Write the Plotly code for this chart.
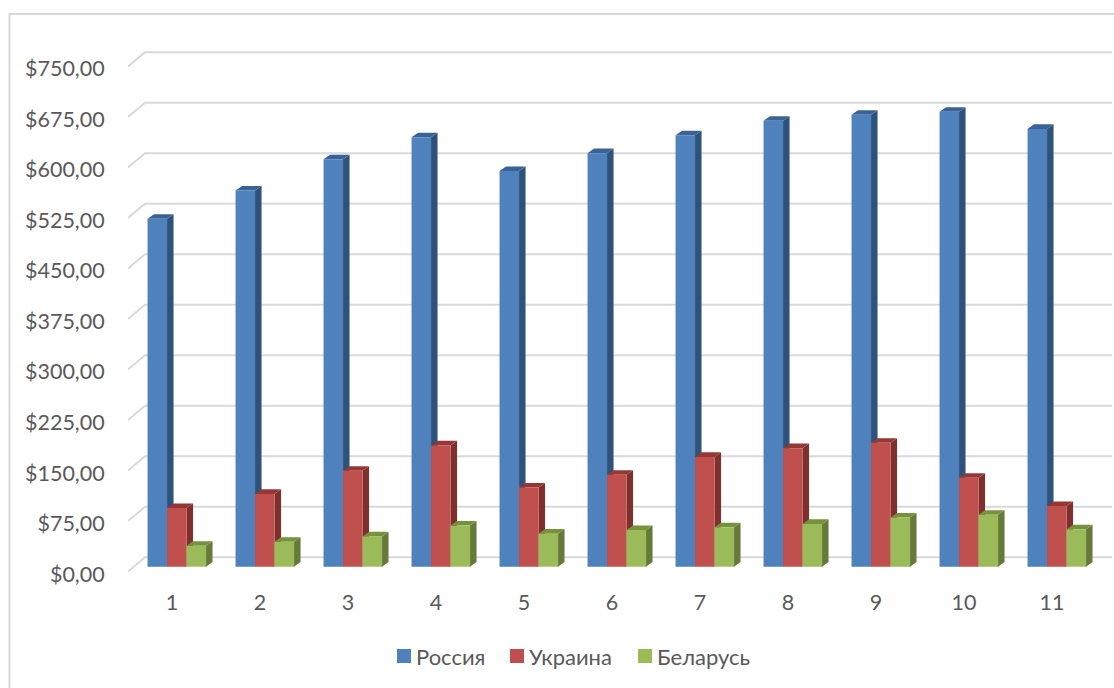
import plotly.graph_objects as go

# Monthly figures per country
categories = [1, 2, 3, 4, 5, 6, 7, 8, 9, 10, 11]
russia = [516.5, 558.5, 605, 637.5, 587.5, 614, 640.5, 662, 671, 675.5, 650]
ukraine = [87, 108, 142.5, 180, 117.5, 136.5, 163, 176, 184, 132, 90]
belarus = [31, 37, 45, 61, 49, 54.5, 58.5, 63.5, 73, 77, 55.5]
tick_values = [0, 75, 150, 225, 300, 375, 450, 525, 600, 675, 750]
tick_labels = ["$0,00", "$75,00", "$150,00", "$225,00", "$300,00", "$375,00",
               "$450,00", "$525,00", "$600,00", "$675,00", "$750,00"]

series = [
    ("Россия", russia, "#4F81BD", "#2F5279", "#3A6296"),
    ("Украина", ukraine, "#C0504D", "#7F302E", "#943735"),
    ("Беларусь", belarus, "#9BBB59", "#667B3A", "#76923C"),
]

W, H = 1114, 688
FONT = "Lato, 'Open Sans', sans-serif"
TEXT = "#595959"
GRID = "#D9D9D9"

# Plot box in page pixels and the pixel scale of each axis
LEFT, RIGHT, TOP, BOTTOM = 128, 1112, 30, 581
PX_PER_CAT = 88.0
PX_PER_VAL = 0.6735
CAT1_X = 172.0      # centre of category 1 on the front plane
ZERO_Y = 574.0      # value 0 at the vertical centre of the axis labels
WALL_FRONT_Y = 571.5  # value 0 where the floor meets the label side
BAR_ZERO_Y = 566.7  # value 0 on the plane of the bar fronts
GROUP_SHIFT_PX = 4.8

x_range = [1 + (LEFT - CAT1_X) / PX_PER_CAT, 1 + (RIGHT - CAT1_X) / PX_PER_CAT]
y_range = [(ZERO_Y - BOTTOM) / PX_PER_VAL, (ZERO_Y - TOP) / PX_PER_VAL]
val_shift = (ZERO_Y - BAR_ZERO_Y) / PX_PER_VAL
wall_shift = (ZERO_Y - WALL_FRONT_Y) / PX_PER_VAL
cat_shift = GROUP_SHIFT_PX / PX_PER_CAT

# Depth of the wall behind the axis labels, and depth of a bar
wall_dx, wall_dy = 17 / PX_PER_CAT, 14.2 / PX_PER_VAL
bar_dx, bar_dy = 6.5 / PX_PER_CAT, 4.6 / PX_PER_VAL
bar_w = 19.5 / PX_PER_CAT

fig = go.Figure()

# Gridlines on the back wall, each with a short diagonal run towards its label
gx, gy = [], []
for v in tick_values:
    gx += [x_range[0], x_range[0] + wall_dx, x_range[1], None]
    gy += [v + wall_shift, v + wall_shift + wall_dy, v + wall_shift + wall_dy, None]
fig.add_trace(go.Scatter(x=gx, y=gy, mode="lines", line=dict(color=GRID, width=2),
                         showlegend=False, hoverinfo="skip"))


def face(xs, ys, color):
    fig.add_trace(go.Scatter(x=xs, y=ys, mode="lines", fill="toself", fillcolor=color,
                             line=dict(width=0), showlegend=False, hoverinfo="skip"))


# Side and top faces, back to front, so each column hides the one to its left
for i, (name, values, front, side, top) in enumerate(series):
    for cat, v in zip(categories, values):
        x0 = cat + cat_shift + (i - 1.5) * bar_w
        x1 = x0 + bar_w
        y0, y1 = val_shift, v + val_shift
        face([x1, x1 + bar_dx, x1 + bar_dx, x1, x1],
             [y0, y0 + bar_dy, y1 + bar_dy, y1, y0], side)
        face([x0, x0 + bar_dx, x1 + bar_dx, x1, x0],
             [y1, y1 + bar_dy, y1 + bar_dy, y1, y1], top)

# Category labels and value labels live on the primary axes; bar fronts sit above
fig.add_trace(go.Scatter(x=categories, y=[0] * len(categories), mode="markers",
                         marker=dict(opacity=0), showlegend=False, hoverinfo="skip"))

for name, values, front, side, top in series:
    fig.add_trace(go.Bar(x=categories, y=values, name=name, showlegend=False,
                         marker=dict(color=front, line=dict(width=0)),
                         xaxis="x2", yaxis="y2"))

domain_x = [LEFT / W, RIGHT / W]
domain_y = [1 - BOTTOM / H, 1 - TOP / H]

# Legend row: tight swatch-to-label spacing, built from paper-anchored shapes and text
legend_swatch_x = [397, 510, 638]
legend_text_x = [416, 529, 657]
legend_y = 656.5
shapes = [dict(type="path", xref="paper", yref="paper",
               path=f"M {9.5 / W} 0 L {9.5 / W} {1 - 14 / H} L 1 {1 - 14 / H}",
               line=dict(color=GRID, width=2))]
annotations = []
for (name, _, front, _, _), sx, tx in zip(series, legend_swatch_x, legend_text_x):
    shapes.append(dict(type="rect", xref="paper", yref="paper",
                       x0=sx / W, x1=(sx + 14) / W,
                       y0=1 - (legend_y + 6.5) / H, y1=1 - (legend_y - 7.5) / H,
                       fillcolor=front, line=dict(width=0)))
    annotations.append(dict(text=name, xref="paper", yref="paper", showarrow=False,
                            x=tx / W, xanchor="left", y=1 - legend_y / H, yanchor="middle",
                            borderpad=0, borderwidth=0, font=dict(size=22, color=TEXT)))

fig.update_layout(
    width=W, height=H, autosize=False,
    margin=dict(l=0, r=0, t=0, b=0, autoexpand=False),
    paper_bgcolor="white", plot_bgcolor="rgba(0,0,0,0)",
    font=dict(family=FONT, color=TEXT, size=21.5),
    showlegend=False,
    barmode="group", bargap=1 - 3 * bar_w, bargroupgap=0,
    xaxis=dict(domain=domain_x, range=x_range, tickmode="array", tickvals=categories,
               ticktext=[str(c) for c in categories], showgrid=False, zeroline=False,
               showline=False, ticks="outside", ticklen=2, tickcolor="rgba(0,0,0,0)"),
    yaxis=dict(domain=domain_y, range=y_range, tickmode="array", tickvals=tick_values,
               ticktext=tick_labels, showgrid=False, zeroline=False, showline=False,
               ticks="outside", ticklen=18, tickcolor="rgba(0,0,0,0)"),
    xaxis2=dict(domain=domain_x, range=[x_range[0] - cat_shift, x_range[1] - cat_shift],
                overlaying="x", visible=False),
    yaxis2=dict(domain=domain_y, range=[y_range[0] - val_shift, y_range[1] - val_shift],
                overlaying="y", visible=False),
    shapes=shapes,
    annotations=annotations,
)

fig.write_html("out.html")
